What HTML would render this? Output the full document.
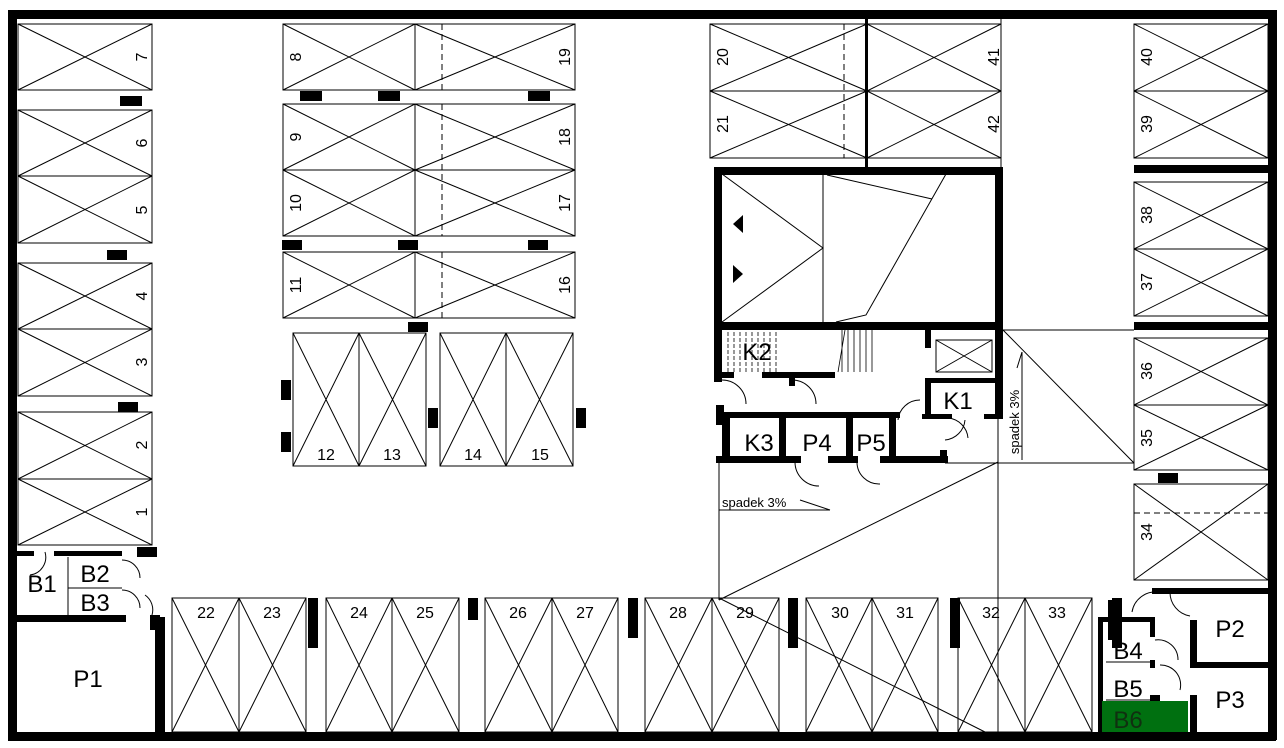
<!DOCTYPE html>
<html><head><meta charset="utf-8"><style>
html,body{margin:0;padding:0;background:#fff}
svg{display:block}
text{font-family:"Liberation Sans",Arial,sans-serif;fill:#000}
.n{font-size:16px}
.r{font-size:24px}
</style></head><body>
<svg width="1284" height="748" viewBox="0 0 1284 748" xmlns="http://www.w3.org/2000/svg">
<rect width="1284" height="748" fill="#fff"/>
<g fill="#000">
<rect x="8" y="10" width="1268" height="9"/>
<rect x="8" y="10" width="9" height="730"/>
<rect x="1268" y="10" width="9" height="730"/>
<rect x="8" y="732" width="1268" height="9"/>
</g>
<g fill="none" stroke="#000" stroke-width="1">
<rect x="18" y="24" width="134" height="66"/><path d="M18 24L152 90M152 24L18 90"/>
<rect x="18" y="110" width="134" height="66"/><path d="M18 110L152 176M152 110L18 176"/>
<rect x="18" y="176" width="134" height="67"/><path d="M18 176L152 243M152 176L18 243"/>
<rect x="18" y="263" width="134" height="66"/><path d="M18 263L152 329M152 263L18 329"/>
<rect x="18" y="329" width="134" height="67"/><path d="M18 329L152 396M152 329L18 396"/>
<rect x="18" y="412" width="134" height="67"/><path d="M18 412L152 479M152 412L18 479"/>
<rect x="18" y="479" width="134" height="66"/><path d="M18 479L152 545M152 479L18 545"/>
<rect x="283" y="24" width="132" height="66"/><path d="M283 24L415 90M415 24L283 90"/>
<rect x="415" y="24" width="160" height="66"/><path d="M415 24L575 90M575 24L415 90"/>
<rect x="283" y="104" width="132" height="66"/><path d="M283 104L415 170M415 104L283 170"/>
<rect x="415" y="104" width="160" height="66"/><path d="M415 104L575 170M575 104L415 170"/>
<rect x="283" y="170" width="132" height="66"/><path d="M283 170L415 236M415 170L283 236"/>
<rect x="415" y="170" width="160" height="66"/><path d="M415 170L575 236M575 170L415 236"/>
<rect x="283" y="252" width="132" height="66"/><path d="M283 252L415 318M415 252L283 318"/>
<rect x="415" y="252" width="160" height="66"/><path d="M415 252L575 318M575 252L415 318"/>
<path d="M442 24V90M442 104V236M442 252V318" stroke-dasharray="6,4"/>
<rect x="293" y="333" width="66" height="133"/><path d="M293 333L359 466M359 333L293 466"/>
<rect x="359" y="333" width="67" height="133"/><path d="M359 333L426 466M426 333L359 466"/>
<rect x="440" y="333" width="66" height="133"/><path d="M440 333L506 466M506 333L440 466"/>
<rect x="506" y="333" width="67" height="133"/><path d="M506 333L573 466M573 333L506 466"/>
<rect x="710" y="24" width="157" height="67"/><path d="M710 24L867 91M867 24L710 91"/>
<rect x="710" y="91" width="157" height="67"/><path d="M710 91L867 158M867 91L710 158"/>
<rect x="867" y="24" width="134" height="67"/><path d="M867 24L1001 91M1001 24L867 91"/>
<rect x="867" y="91" width="134" height="67"/><path d="M867 91L1001 158M1001 91L867 158"/>
<path d="M844 24V158" stroke-dasharray="6,4"/>
<path d="M866.5 19V167" stroke-width="3"/>
<path d="M1001 19V167"/>
<rect x="1134" y="24" width="134" height="67"/><path d="M1134 24L1268 91M1268 24L1134 91"/>
<rect x="1134" y="91" width="134" height="67"/><path d="M1134 91L1268 158M1268 91L1134 158"/>
<rect x="1134" y="182" width="134" height="67"/><path d="M1134 182L1268 249M1268 182L1134 249"/>
<rect x="1134" y="249" width="134" height="67"/><path d="M1134 249L1268 316M1268 249L1134 316"/>
<rect x="1134" y="338" width="134" height="67"/><path d="M1134 338L1268 405M1268 338L1134 405"/>
<rect x="1134" y="405" width="134" height="65"/><path d="M1134 405L1268 470M1268 405L1134 470"/>
<rect x="1134" y="484" width="134" height="96"/><path d="M1134 484L1268 580M1268 484L1134 580"/>
<path d="M1134 513H1268" stroke-dasharray="6,4"/>
<rect x="172" y="598" width="67" height="134"/><path d="M172 598L239 732M239 598L172 732"/>
<rect x="239" y="598" width="67" height="134"/><path d="M239 598L306 732M306 598L239 732"/>
<rect x="326" y="598" width="66" height="134"/><path d="M326 598L392 732M392 598L326 732"/>
<rect x="392" y="598" width="67" height="134"/><path d="M392 598L459 732M459 598L392 732"/>
<rect x="485" y="598" width="67" height="134"/><path d="M485 598L552 732M552 598L485 732"/>
<rect x="552" y="598" width="66" height="134"/><path d="M552 598L618 732M618 598L552 732"/>
<rect x="645" y="598" width="67" height="134"/><path d="M645 598L712 732M712 598L645 732"/>
<rect x="712" y="598" width="67" height="134"/><path d="M712 598L779 732M779 598L712 732"/>
<rect x="806" y="598" width="66" height="134"/><path d="M806 598L872 732M872 598L806 732"/>
<rect x="872" y="598" width="66" height="134"/><path d="M872 598L938 732M938 598L872 732"/>
<rect x="958" y="598" width="67" height="134"/><path d="M958 598L1025 732M1025 598L958 732"/>
<rect x="1025" y="598" width="67" height="134"/><path d="M1025 598L1092 732M1092 598L1025 732"/>
<path d="M823 174V322M722 174L823 248L722 322M827 175L932 199M946 174L866 315L836 322"/>
<path d="M1003 330H1134M1003 330L1134 463M945 463H1134M998 418V732M719 462V600M719 600L998 462M719 598L985 732"/>
<path d="M719 510H830M800 500L830 510"/>
<path d="M1022 460V352M1022 352L1017 368"/>
<path d="M728 332V372M734 332V372M740 332V372M746 332V372M752 332V372M758 332V372M764 332V372M770 332V372M776 332V372" stroke-dasharray="4,2" stroke-width="0.8"/>
<path d="M842 330V372M848 330V372M854 330V372M860 330V372M866 330V372M872 330V372M838 372L845 330" stroke-width="0.8"/>
<rect x="936" y="340" width="56" height="32"/><path d="M936 340L992 372M992 340L936 372"/>
<path d="M722 380A24 24 0 0 1 746 404M792 380A24 24 0 0 1 816 404M795 462A24 24 0 0 0 819 486M857 462A22 22 0 0 0 880 484M920 400A22 22 0 0 0 898 420M948 418A22 22 0 0 1 968 438M945 440A22 22 0 0 0 965 420"/>
<path d="M45 552A18 18 0 0 1 30 575M122 560A18 18 0 0 1 140 578M122 590A18 18 0 0 1 140 608M145 595A18 18 0 0 1 152 615"/>
<path d="M1158 592A24 24 0 0 0 1132 612M1170 592A24 24 0 0 0 1190 616M1155 640A20 20 0 0 1 1178 660M1160 665A20 20 0 0 1 1180 690"/>
<path d="M68 557V617M68 588H122M1106 662H1155M1106 700H1155"/>
</g>
<g fill="#000">
<rect x="120" y="96" width="22" height="10"/><rect x="107" y="250" width="20" height="10"/>
<rect x="118" y="402" width="20" height="10"/><rect x="137" y="547" width="20" height="10"/>
<rect x="300" y="91" width="22" height="10"/><rect x="378" y="91" width="22" height="10"/><rect x="528" y="91" width="22" height="10"/>
<rect x="282" y="240" width="20" height="10"/><rect x="398" y="240" width="20" height="10"/><rect x="528" y="240" width="20" height="10"/>
<rect x="408" y="322" width="20" height="10"/>
<rect x="281" y="380" width="10" height="20"/><rect x="281" y="432" width="10" height="20"/>
<rect x="428" y="408" width="10" height="20"/><rect x="576" y="408" width="10" height="20"/>
<rect x="1158" y="473" width="20" height="10"/>
<rect x="308" y="598" width="10" height="50"/><rect x="468" y="598" width="10" height="22"/>
<rect x="628" y="598" width="10" height="40"/><rect x="788" y="598" width="10" height="50"/>
<rect x="950" y="598" width="10" height="50"/><rect x="1112" y="598" width="10" height="50"/>
<rect x="714" y="167" width="289" height="8"/><rect x="714" y="167" width="8" height="163"/>
<rect x="995" y="167" width="8" height="251"/><rect x="714" y="322" width="289" height="8"/>
<rect x="714" y="322" width="8" height="60"/><rect x="714" y="372" width="20" height="6"/>
<rect x="762" y="372" width="73" height="6"/>
<rect x="789" y="372" width="6" height="14"/>
<rect x="925" y="330" width="6" height="18"/>
<rect x="925" y="378" width="6" height="40"/><rect x="925" y="378" width="70" height="5"/>
<rect x="922" y="414" width="30" height="5"/><rect x="984" y="414" width="19" height="5"/>
<rect x="716" y="405" width="8" height="20"/>
<rect x="716" y="412" width="184" height="6"/><rect x="722" y="412" width="8" height="50"/>
<rect x="779" y="412" width="7" height="50"/><rect x="846" y="412" width="7" height="50"/><rect x="889" y="412" width="7" height="50"/>
<rect x="716" y="456" width="85" height="7"/><rect x="828" y="456" width="30" height="7"/><rect x="880" y="456" width="68" height="7"/>
<rect x="940" y="450" width="7" height="12"/>
<rect x="1134" y="165" width="134" height="8"/><rect x="1134" y="322" width="134" height="8"/>
<rect x="16" y="551" width="18" height="5"/><rect x="54" y="551" width="68" height="5"/>
<rect x="16" y="615" width="110" height="7"/>
<rect x="155" y="617" width="10" height="115"/><rect x="150" y="615" width="10" height="15"/>
<rect x="1152" y="588" width="116" height="6"/><rect x="1190" y="620" width="7" height="48"/>
<rect x="1190" y="662" width="78" height="6"/><rect x="1190" y="695" width="7" height="40"/>
<rect x="1098" y="617" width="5" height="118"/><rect x="1098" y="617" width="57" height="5"/>
<rect x="1150" y="617" width="5" height="20"/><rect x="1150" y="660" width="5" height="8"/>
<rect x="1150" y="695" width="10" height="6"/>
<rect x="1108" y="600" width="8" height="40"/>
</g>
<rect x="1102" y="701" width="86" height="31" fill="#007010"/>
<path d="M733 224L743 215V233Z M743 274L733 265V283Z" fill="#000"/>
<g class="n">
<text transform="translate(147,57) rotate(-90)" text-anchor="middle">7</text>
<text transform="translate(147,143) rotate(-90)" text-anchor="middle">6</text>
<text transform="translate(147,210) rotate(-90)" text-anchor="middle">5</text>
<text transform="translate(147,296) rotate(-90)" text-anchor="middle">4</text>
<text transform="translate(147,362) rotate(-90)" text-anchor="middle">3</text>
<text transform="translate(147,445) rotate(-90)" text-anchor="middle">2</text>
<text transform="translate(147,512) rotate(-90)" text-anchor="middle">1</text>
<text transform="translate(301,57) rotate(-90)" text-anchor="middle">8</text>
<text transform="translate(301,137) rotate(-90)" text-anchor="middle">9</text>
<text transform="translate(301,203) rotate(-90)" text-anchor="middle">10</text>
<text transform="translate(301,285) rotate(-90)" text-anchor="middle">11</text>
<text transform="translate(570,57) rotate(-90)" text-anchor="middle">19</text>
<text transform="translate(570,137) rotate(-90)" text-anchor="middle">18</text>
<text transform="translate(570,203) rotate(-90)" text-anchor="middle">17</text>
<text transform="translate(570,285) rotate(-90)" text-anchor="middle">16</text>
<text transform="translate(728,57) rotate(-90)" text-anchor="middle">20</text>
<text transform="translate(728,124) rotate(-90)" text-anchor="middle">21</text>
<text transform="translate(999,57) rotate(-90)" text-anchor="middle">41</text>
<text transform="translate(999,124) rotate(-90)" text-anchor="middle">42</text>
<text transform="translate(1152,57) rotate(-90)" text-anchor="middle">40</text>
<text transform="translate(1152,124) rotate(-90)" text-anchor="middle">39</text>
<text transform="translate(1152,215) rotate(-90)" text-anchor="middle">38</text>
<text transform="translate(1152,282) rotate(-90)" text-anchor="middle">37</text>
<text transform="translate(1152,371) rotate(-90)" text-anchor="middle">36</text>
<text transform="translate(1152,438) rotate(-90)" text-anchor="middle">35</text>
<text transform="translate(1152,532) rotate(-90)" text-anchor="middle">34</text>
</g>
<g class="n" text-anchor="middle">
<text x="326" y="460">12</text><text x="392" y="460">13</text><text x="473" y="460">14</text><text x="540" y="460">15</text>
<text x="206" y="618">22</text><text x="272" y="618">23</text><text x="359" y="618">24</text><text x="425" y="618">25</text>
<text x="518" y="618">26</text><text x="585" y="618">27</text><text x="678" y="618">28</text><text x="745" y="618">29</text>
<text x="840" y="618">30</text><text x="905" y="618">31</text><text x="991" y="618">32</text><text x="1057" y="618">33</text>
</g>
<text x="722" y="507" font-size="13">spadek 3%</text>
<text transform="translate(1019,422) rotate(-90)" font-size="13" text-anchor="middle">spadek 3%</text>
<g class="r" text-anchor="middle">
<text x="757" y="360">K2</text>
<text x="759" y="451">K3</text><text x="817" y="451">P4</text><text x="871" y="451">P5</text>
<text x="958" y="409">K1</text>
<text x="42" y="592">B1</text><text x="95" y="582">B2</text><text x="95" y="611">B3</text>
<text x="88" y="687">P1</text>
<text x="1230" y="637">P2</text><text x="1230" y="708">P3</text>
<text x="1128" y="659">B4</text><text x="1128" y="697">B5</text>
<text x="1128" y="728" style="fill:#103010">B6</text>
</g>
</svg>
</body></html>
